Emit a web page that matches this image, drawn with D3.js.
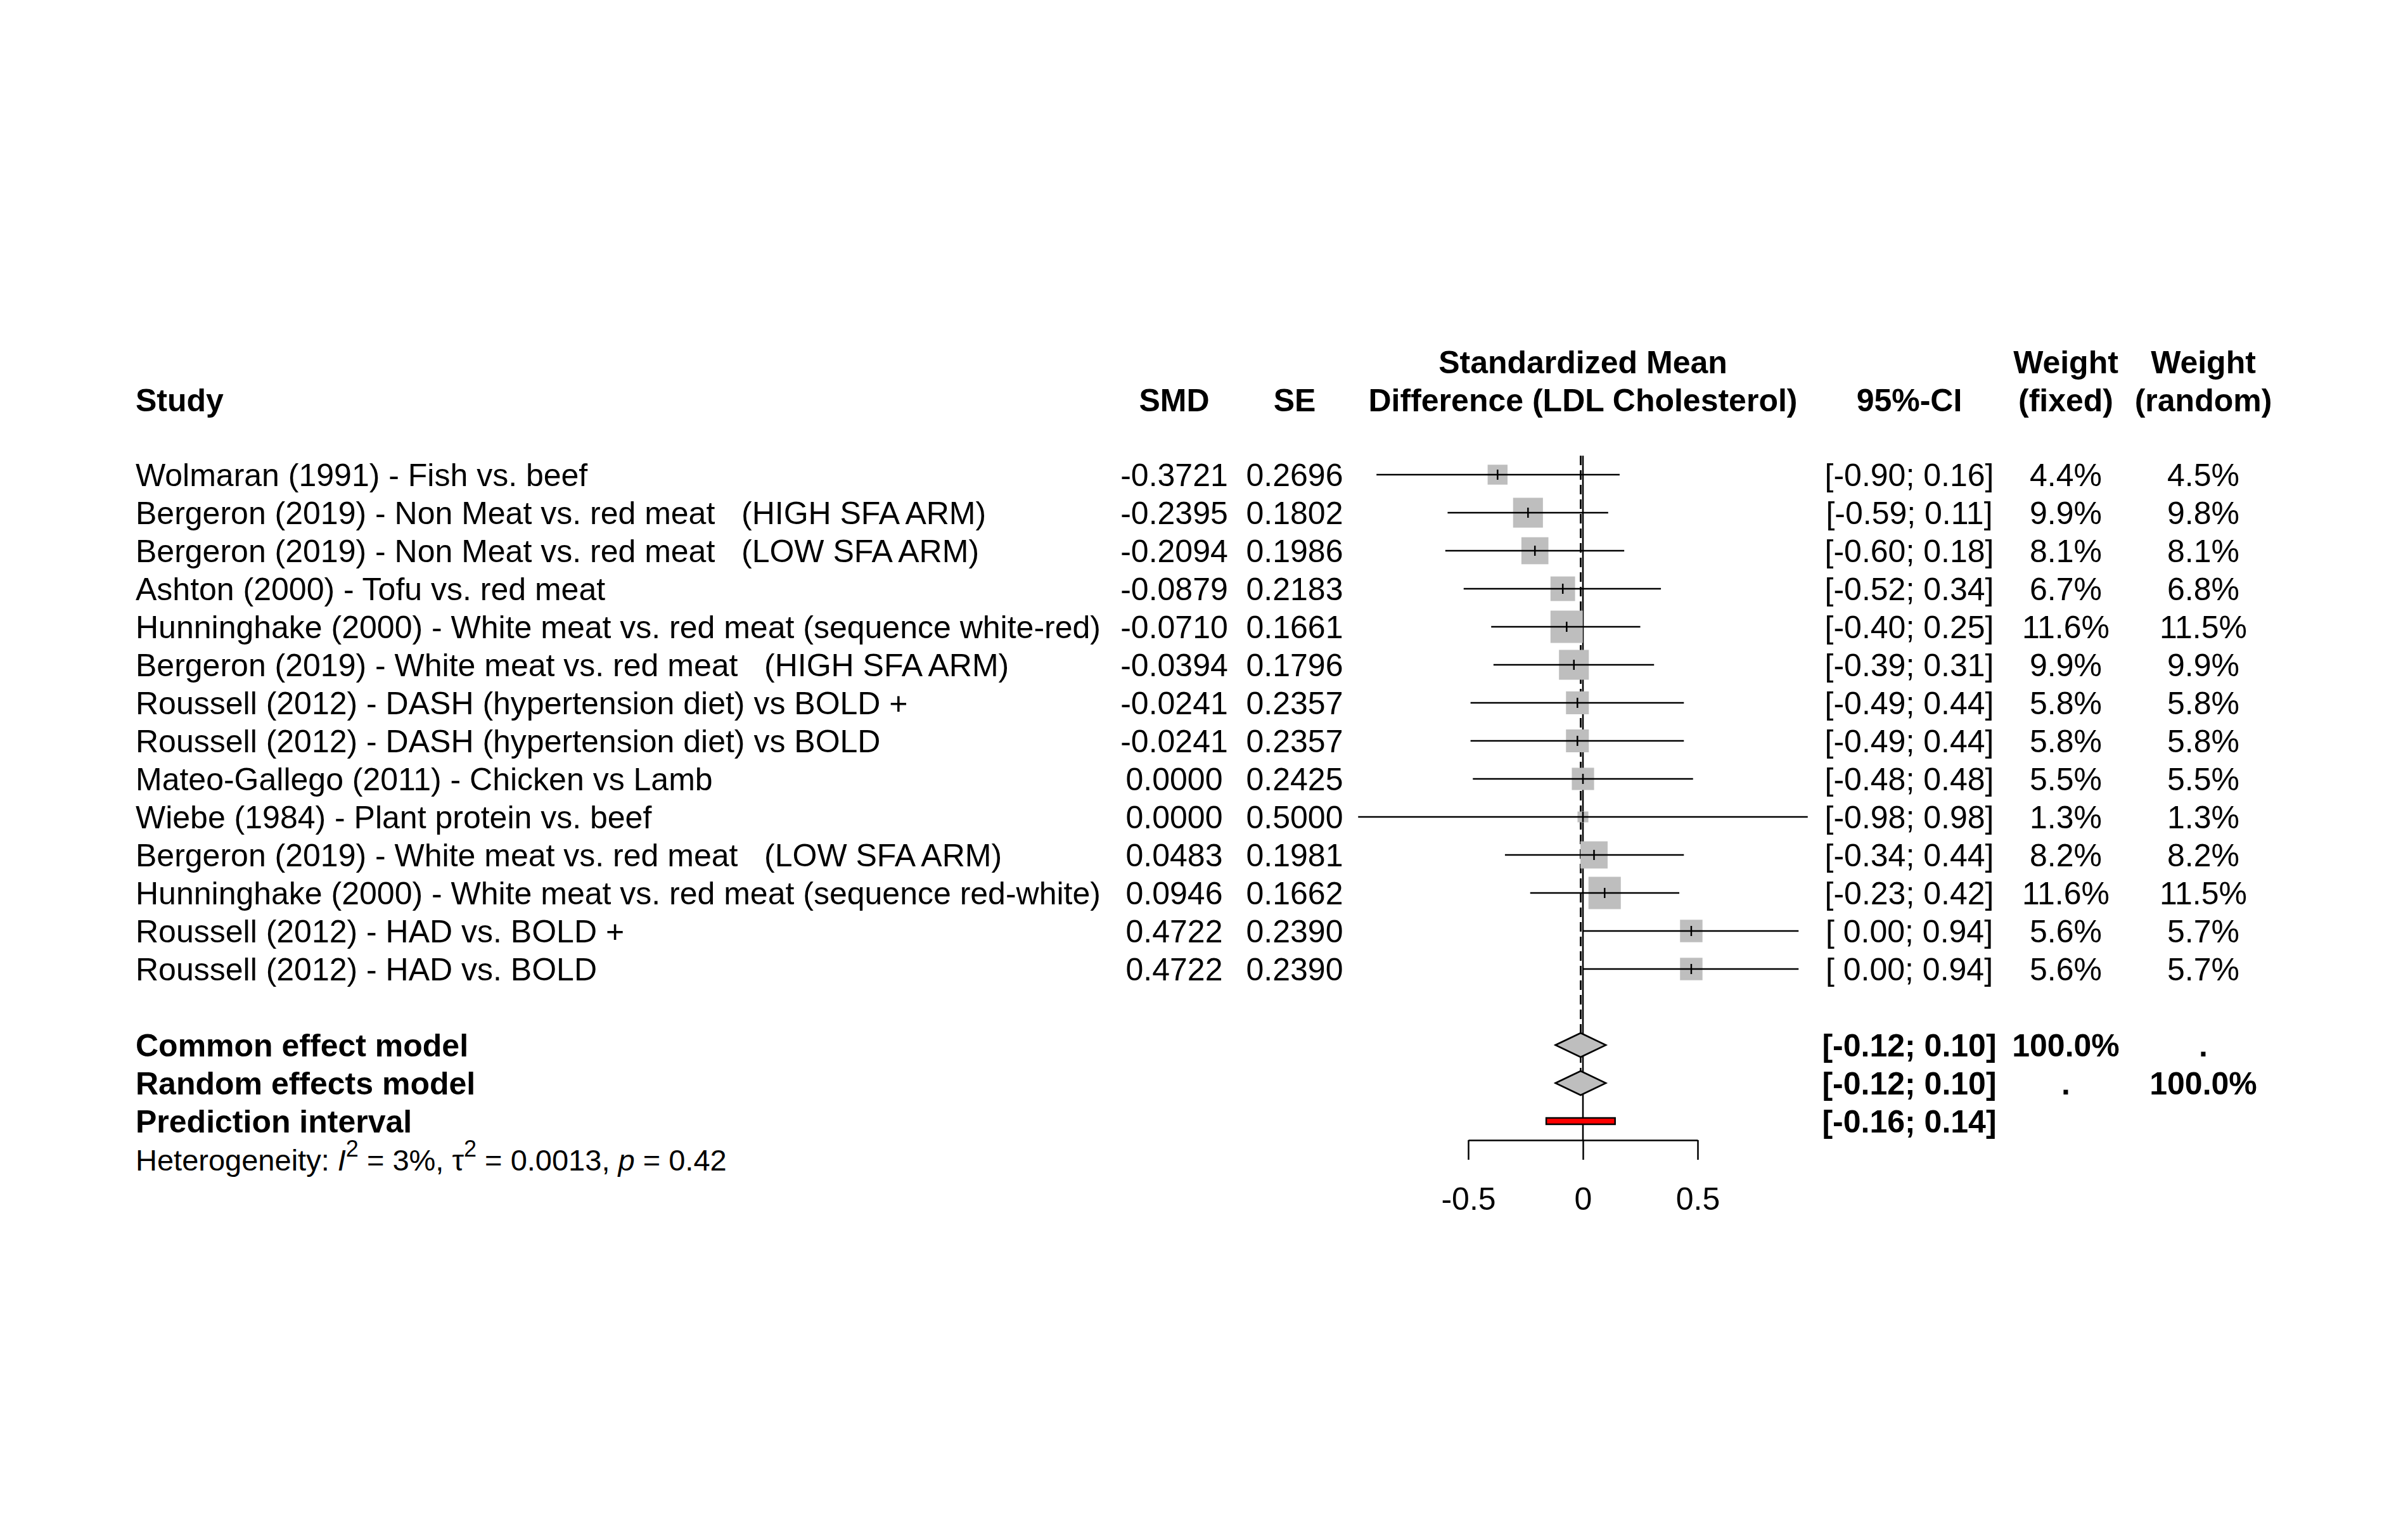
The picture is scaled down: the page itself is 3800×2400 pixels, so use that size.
<!DOCTYPE html>
<html>
<head>
<meta charset="utf-8">
<script src="https://cdn.jsdelivr.net/npm/d3@7"></script>
<style>
body { margin: 0; background: #fff; }
svg text { font-family: "Liberation Sans", Arial, sans-serif; white-space: pre; fill: #000; }
</style>
</head>
<body>
<svg id="chart"></svg>
<script>
// Forest plot: SMD in LDL cholesterol, meat comparisons

var studies = [
    "Wolmaran (1991) - Fish vs. beef",
    "Bergeron (2019) - Non Meat vs. red meat   (HIGH SFA ARM)",
    "Bergeron (2019) - Non Meat vs. red meat   (LOW SFA ARM)",
    "Ashton (2000) - Tofu vs. red meat",
    "Hunninghake (2000) - White meat vs. red meat (sequence white-red)",
    "Bergeron (2019) - White meat vs. red meat   (HIGH SFA ARM)",
    "Roussell (2012) - DASH (hypertension diet) vs BOLD +",
    "Roussell (2012) - DASH (hypertension diet) vs BOLD",
    "Mateo-Gallego (2011) - Chicken vs Lamb",
    "Wiebe (1984) - Plant protein vs. beef",
    "Bergeron (2019) - White meat vs. red meat   (LOW SFA ARM)",
    "Hunninghake (2000) - White meat vs. red meat (sequence red-white)",
    "Roussell (2012) - HAD vs. BOLD +",
    "Roussell (2012) - HAD vs. BOLD"
];
var smd = [-0.3721, -0.2395, -0.2094, -0.0879, -0.0710, -0.0394, -0.0241, -0.0241, 0.0000, 0.0000, 0.0483, 0.0946, 0.4722, 0.4722];
var se = [0.2696, 0.1802, 0.1986, 0.2183, 0.1661, 0.1796, 0.2357, 0.2357, 0.2425, 0.5000, 0.1981, 0.1662, 0.2390, 0.2390];
var ciLow = [-0.90, -0.59, -0.60, -0.52, -0.40, -0.39, -0.49, -0.49, -0.48, -0.98, -0.34, -0.23, 0.00, 0.00];
var ciHigh = [0.16, 0.11, 0.18, 0.34, 0.25, 0.31, 0.44, 0.44, 0.48, 0.98, 0.44, 0.42, 0.94, 0.94];
var wFixed = [4.4, 9.9, 8.1, 6.7, 11.6, 9.9, 5.8, 5.8, 5.5, 1.3, 8.2, 11.6, 5.6, 5.6];
var wRandom = [4.5, 9.8, 8.1, 6.8, 11.5, 9.9, 5.8, 5.8, 5.5, 1.3, 8.2, 11.5, 5.7, 5.7];

// pooled results
var commonCI = [-0.12, 0.10], commonEst = -0.01;
var randomCI = [-0.12, 0.10], randomEst = -0.01;
var predCI = [-0.16, 0.14];
var hetI2 = "3%", hetTau2 = "0.0013", hetP = "0.42";

var axisTicks = [-0.5, 0, 0.5];

var W = 3800, H = 2400;
var fs = 50;
var svg = d3.select("#chart").attr("width", W).attr("height", H);

var x = d3.scaleLinear().domain([-1, 1]).range([2136, 2860]);
var y = d3.scaleLinear().domain([0, 18]).range([749, 1829]);   // row index -> row centre
var side = d3.scaleSqrt().domain([0, 11.6]).range([0, 51]);   // square side from weight

var col = {study: 214, smd: 1853, se: 2043, plot: x(0), ci: 3013, wf: 3260, wr: 3477};
var base = 18;   // text baseline offset from row centre
var head1 = 589, head2 = 649;
var topY = y(0) - 30;
var axisY = 1799;

// R style numbers: plain hyphen for minus
function fmt(v, n) { return v.toFixed(n); }
function ciText(lo, hi) {
    return "[" + (lo < 0 ? "" : " ") + fmt(lo, 2) + "; " + fmt(hi, 2) + "]";
}

function text(g, xx, yy, s, anchor, bold) {
    return g.append("text")
        .attr("x", xx).attr("y", yy)
        .attr("text-anchor", anchor || "middle")
        .attr("font-size", fs)
        .attr("font-weight", bold ? "bold" : "normal")
        .text(s);
}

// headers
var hd = svg.append("g");
text(hd, col.study, head2, "Study", "start", true);
text(hd, col.smd, head2, "SMD", "middle", true);
text(hd, col.se, head2, "SE", "middle", true);
text(hd, col.plot, head1, "Standardized Mean", "middle", true);
text(hd, col.plot, head2, "Difference (LDL Cholesterol)", "middle", true);
text(hd, col.ci, head2, "95%-CI", "middle", true);
text(hd, col.wf, head1, "Weight", "middle", true);
text(hd, col.wf, head2, "(fixed)", "middle", true);
text(hd, col.wr, head1, "Weight", "middle", true);
text(hd, col.wr, head2, "(random)", "middle", true);

// reference lines
var lines = svg.append("g").attr("stroke", "#000").attr("stroke-width", 2.5);
lines.append("line")
    .attr("x1", x(0)).attr("x2", x(0))
    .attr("y1", topY).attr("y2", axisY);
lines.append("line")
    .attr("x1", x(commonEst)).attr("x2", x(commonEst))
    .attr("y1", topY).attr("y2", y(15) - 19)
    .attr("stroke-dasharray", "15,8");
lines.append("line")
    .attr("x1", x(randomEst)).attr("x2", x(randomEst))
    .attr("y1", topY).attr("y2", y(16) - 19)
    .attr("stroke-dasharray", "15,8");

// study rows
var rows = svg.append("g").selectAll("g.row")
    .data(studies.map(function(d, i) { return {i: i, name: d}; }))
    .enter().append("g").attr("class", "row");

rows.append("rect")
    .attr("x", function(d) { return x(smd[d.i]) - side(wFixed[d.i]) / 2; })
    .attr("y", function(d) { return y(d.i) - side(wFixed[d.i]) / 2; })
    .attr("width", function(d) { return side(wFixed[d.i]); })
    .attr("height", function(d) { return side(wFixed[d.i]); })
    .attr("fill", "#bebebe");

rows.append("line")
    .attr("x1", function(d) { return x(ciLow[d.i]); })
    .attr("x2", function(d) { return x(ciHigh[d.i]); })
    .attr("y1", function(d) { return y(d.i); })
    .attr("y2", function(d) { return y(d.i); })
    .attr("stroke", "#000").attr("stroke-width", 2.5);

rows.append("line")
    .attr("x1", function(d) { return x(smd[d.i]); })
    .attr("x2", function(d) { return x(smd[d.i]); })
    .attr("y1", function(d) { return y(d.i) - 8; })
    .attr("y2", function(d) { return y(d.i) + 8; })
    .attr("stroke", "#000").attr("stroke-width", 2.5);

rows.each(function(d) {
    var g = d3.select(this), yy = y(d.i) + base;
    text(g, col.study, yy, d.name, "start");
    text(g, col.smd, yy, fmt(smd[d.i], 4));
    text(g, col.se, yy, fmt(se[d.i], 4));
    text(g, col.ci, yy, ciText(ciLow[d.i], ciHigh[d.i]));
    text(g, col.wf, yy, fmt(wFixed[d.i], 1) + "%");
    text(g, col.wr, yy, fmt(wRandom[d.i], 1) + "%");
});

// pooled estimates
function diamond(est, ci, row) {
    var yc = y(row), h = 19;
    return "M" + x(ci[0]) + "," + yc + "L" + x(est) + "," + (yc - h) +
        "L" + x(ci[1]) + "," + yc + "L" + x(est) + "," + (yc + h) + "Z";
}
var pooled = svg.append("g");
pooled.append("path").attr("d", diamond(commonEst, commonCI, 15))
    .attr("fill", "#bebebe").attr("stroke", "#000").attr("stroke-width", 2.5);
pooled.append("path").attr("d", diamond(randomEst, randomCI, 16))
    .attr("fill", "#bebebe").attr("stroke", "#000").attr("stroke-width", 2.5);
pooled.append("rect")
    .attr("x", x(predCI[0])).attr("width", x(predCI[1]) - x(predCI[0]))
    .attr("y", y(17) - 5).attr("height", 10)
    .attr("fill", "red").attr("stroke", "#000").attr("stroke-width", 2.5);

text(pooled, col.study, y(15) + base, "Common effect model", "start", true);
text(pooled, col.study, y(16) + base, "Random effects model", "start", true);
text(pooled, col.study, y(17) + base, "Prediction interval", "start", true);
text(pooled, col.ci, y(15) + base, ciText(commonCI[0], commonCI[1]), "middle", true);
text(pooled, col.ci, y(16) + base, ciText(randomCI[0], randomCI[1]), "middle", true);
text(pooled, col.ci, y(17) + base, ciText(predCI[0], predCI[1]), "middle", true);
text(pooled, col.wf, y(15) + base, "100.0%", "middle", true);
text(pooled, col.wr, y(15) + base, ".", "middle", true);
text(pooled, col.wf, y(16) + base, ".", "middle", true);
text(pooled, col.wr, y(16) + base, "100.0%", "middle", true);

// heterogeneity line
var het = pooled.append("text")
    .attr("x", col.study).attr("y", y(18) + base)
    .attr("font-size", 47);
het.append("tspan").text("Heterogeneity: ");
het.append("tspan").attr("font-style", "italic").text("I");
het.append("tspan").attr("font-size", 36).attr("dy", -22).text("2");
het.append("tspan").attr("dy", 22).text(" = " + hetI2 + ", τ");
het.append("tspan").attr("font-size", 36).attr("dy", -22).text("2");
het.append("tspan").attr("dy", 22).text(" = " + hetTau2 + ", ");
het.append("tspan").attr("font-style", "italic").text("p");
het.append("tspan").text(" = " + hetP);

// x axis
var xa = x.copy().domain([-0.5, 0.5]).range([x(-0.5), x(0.5)]);
var axis = svg.append("g")
    .attr("transform", "translate(0," + axisY + ")")
    .call(d3.axisBottom(xa).tickValues(axisTicks)
        .tickSize(31).tickSizeOuter(0).tickPadding(43));
axis.selectAll("path, line").attr("stroke", "#000").attr("stroke-width", 2.5);
axis.selectAll("text")
    .attr("font-size", fs)
    .attr("font-family", "'Liberation Sans', Arial, sans-serif")
    .attr("fill", "#000")
    .text(function(d) { return String(d); });
</script>
</body>
</html>
